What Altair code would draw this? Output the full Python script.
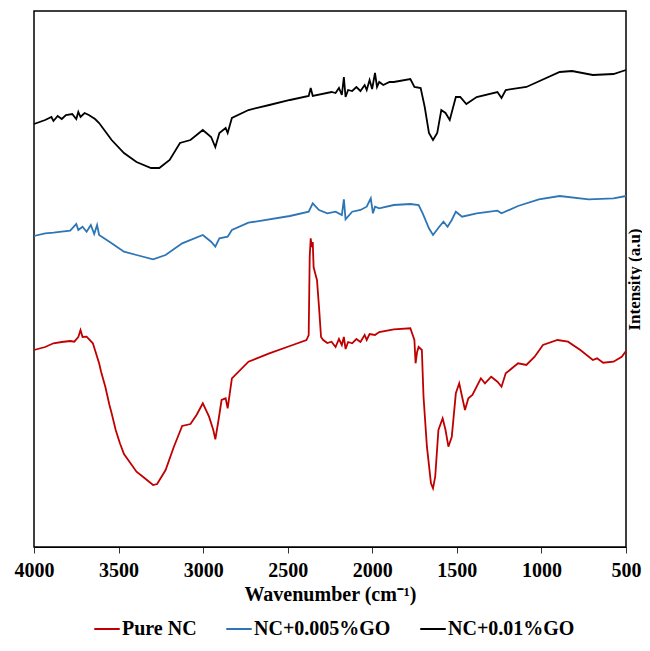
import altair as alt
import pandas as pd

series_names = ["Pure NC", "NC+0.005%GO", "NC+0.01%GO"]
series_colors = ["#C00000", "#2E75B6", "#000000"]
x_ticks = [4000, 3500, 3000, 2500, 2000, 1500, 1000, 500]

black_wn = [4000, 3934, 3897, 3885, 3860, 3836, 3811, 3774, 3750, 3738, 3725, 3701, 3676, 3639, 3615,
            3541, 3468, 3394, 3308, 3259, 3198, 3137, 3075, 3002, 2953, 2928, 2904, 2867, 2855, 2830,
            2732, 2609, 2487, 2376, 2364, 2352, 2241, 2217, 2197, 2180, 2168, 2158, 2143, 2119, 2094,
            2070, 2045, 2033, 2016, 2001, 1984, 1972, 1959, 1935, 1898, 1873, 1775, 1751, 1714, 1690,
            1665, 1641, 1616, 1592, 1567, 1542, 1506, 1480, 1444, 1383, 1260, 1236, 1211, 1089, 892,
            819, 696, 574, 500]
black_int = [423, 427, 430, 426, 431, 428, 432, 433, 428, 435, 430, 434, 432, 428, 424,
             407, 394, 385, 379, 379, 387, 404, 407, 417, 410, 400, 414, 419, 414, 429,
             437, 442, 447, 451, 459, 451, 455, 454, 459, 452, 470, 450, 457, 456, 460,
             456, 462, 457, 467, 458, 474, 460, 465, 462, 465, 465, 468, 460, 459, 440,
             414, 407, 414, 437, 434, 427, 450, 450, 443, 450, 455, 449, 457, 460, 475,
             476, 472, 473, 477]

blue_wn = [4000, 3934, 3885, 3836, 3786, 3750, 3738, 3713, 3689, 3664, 3644, 3627, 3615, 3541, 3468,
           3394, 3296, 3222, 3124, 3002, 2953, 2928, 2904, 2855, 2830, 2732, 2487, 2376, 2352, 2315,
           2266, 2217, 2180, 2168, 2158, 2119, 2070, 2033, 2009, 1996, 1984, 1959, 1873, 1775, 1726,
           1702, 1665, 1641, 1604, 1579, 1555, 1530, 1506, 1469, 1383, 1260, 1236, 1138, 1015, 892,
           721, 574, 500]
blue_int = [311, 313.7, 314.3, 315.3, 316.3, 323, 317, 320.3, 315.3, 322, 313, 322, 312, 303.7, 295.3,
            292, 287.7, 292, 303.7, 312, 305.3, 300.3, 308.7, 310.3, 317, 324.3, 331, 335.3, 343.7, 337,
            333.7, 335.3, 332, 347.7, 327.7, 335.3, 337, 340.3, 348.7, 333.7, 340.3, 338.7, 342, 343, 342,
            333.7, 318.7, 312, 320.3, 325.3, 320.3, 327, 335.3, 330.3, 333.7, 336.3, 333.7, 341, 347.7, 351,
            347.7, 348.7, 351]

red_wn = [4000, 3934, 3885, 3836, 3786, 3762, 3738, 3725, 3713, 3689, 3652, 3615, 3603, 3578, 3554,
          3541, 3517, 3492, 3468, 3443, 3394, 3345, 3296, 3272, 3222, 3173, 3124, 3075, 3039, 3002,
          2965, 2940, 2928, 2909, 2891, 2867, 2855, 2830, 2732, 2609, 2487, 2389, 2376, 2370, 2364,
          2358, 2352, 2347, 2335, 2327, 2315, 2303, 2290, 2266, 2241, 2217, 2197, 2180, 2168, 2158,
          2143, 2119, 2094, 2070, 2045, 2033, 2016, 1984, 1959, 1873, 1775, 1751, 1744, 1735, 1726,
          1707, 1697, 1677, 1653, 1641, 1628, 1609, 1584, 1567, 1550, 1530, 1506, 1486, 1469, 1452,
          1432, 1408, 1358, 1334, 1297, 1260, 1236, 1211, 1138, 1089, 1040, 991, 905, 843, 770,
          696, 671, 635, 574, 525, 500]
red_int = [197, 200, 203.7, 205, 206, 205.3, 210, 217, 210, 210.3, 203.7, 183.7, 175, 160, 142,
           133.7, 117, 103.7, 93, 87, 75.3, 68.7, 62, 63, 77, 100.3, 121, 123, 132, 143.7,
           130.3, 117, 107.7, 127, 147, 148.7, 138.7, 168.7, 185.3, 193.7, 201, 207, 212, 290, 308.7,
           300, 305, 280, 272, 267, 240, 210, 207, 204, 205.3, 200, 208, 202, 210, 198,
           205, 203.7, 208, 205, 212, 207, 213, 212, 215, 217.7, 218.7, 207, 183.7, 195, 200,
           197, 150, 100.3, 63.7, 58.7, 70.3, 117, 128.7, 117, 100.3, 110.3, 153.7, 163.7, 150.3, 137,
           148.7, 152, 168.7, 163.7, 170.3, 165.3, 160.3, 173.7, 183.7, 182, 190.3, 202, 207, 205.3, 197,
           187, 188.7, 184.3, 185.3, 190.3, 196]

frames = []
for name, wn, iv in [(series_names[0], red_wn, red_int),
                     (series_names[1], blue_wn, blue_int),
                     (series_names[2], black_wn, black_int)]:
    frames.append(pd.DataFrame({"wn": wn, "intensity": iv, "series": name, "order": range(len(wn))}))
df = pd.concat(frames, ignore_index=True)

font = "Liberation Serif"

chart = alt.Chart(df).mark_line(strokeWidth=1.8).encode(
    x=alt.X("wn:Q", scale=alt.Scale(domain=[4000, 500], nice=False, zero=False),
            axis=alt.Axis(values=x_ticks, title="Wavenumber (cm⁻¹)", grid=False, format="d",
                          labelFont=font, labelFontSize=20, labelFontWeight="bold", labelColor="black",
                          titleFont=font, titleFontSize=20, titleFontWeight="bold", titleColor="black",
                          tickColor="#333333", tickSize=6, domainColor="black", labelPadding=7,
                          titlePadding=4, labelFlush=False)),
    y=alt.Y("intensity:Q", scale=alt.Scale(domain=[0, 536], nice=False, zero=False),
            axis=alt.Axis(orient="right", labels=False, ticks=False, domain=False, grid=False,
                          title="Intensity (a.u)", titleAngle=270, titleFont=font, titleFontSize=17,
                          titleFontWeight="bold", titleColor="black", titlePadding=17)),
    color=alt.Color("series:N", scale=alt.Scale(domain=series_names, range=series_colors),
                    legend=alt.Legend(title=None, orient="none", legendX=59, legendY=604,
                                      direction="horizontal", symbolType="stroke", symbolSize=650,
                                      symbolStrokeWidth=2, labelFont=font, labelFontSize=20,
                                      labelFontWeight="bold", labelColor="black", columnPadding=25,
                                      labelOffset=1)),
    detail="series:N",
    order="order:Q",
).properties(
    width=592, height=536,
    autosize=alt.AutoSizeParams(type="none"),
    padding={"left": 26, "top": 3, "right": 16, "bottom": 100},
).configure_view(stroke="black", strokeWidth=1.5)

chart.save("out.html", embed_options={"renderer": "svg", "actions": False})
